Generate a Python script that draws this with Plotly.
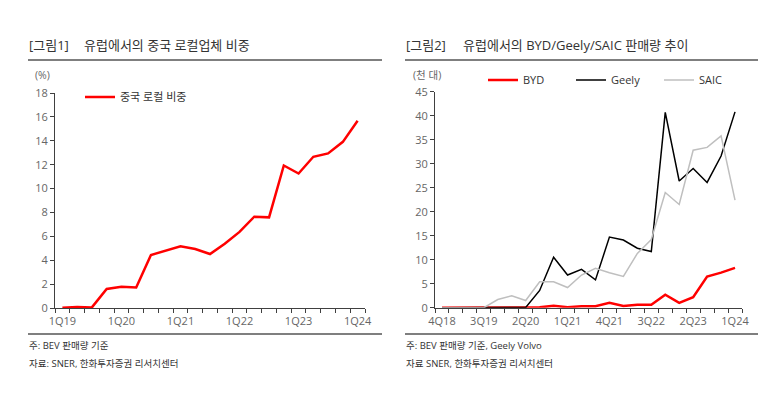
import plotly.graph_objects as go

W, H = 775, 412
FONT = "Open Sans, Noto Sans CJK KR"

# ---- Data: chart 1 (share of Chinese local makers in Europe, %)
quarters1 = ["1Q19", "2Q19", "3Q19", "4Q19", "1Q20", "2Q20", "3Q20", "4Q20",
             "1Q21", "2Q21", "3Q21", "4Q21", "1Q22", "2Q22", "3Q22", "4Q22",
             "1Q23", "2Q23", "3Q23", "4Q23", "1Q24"]
china_share = [0.03, 0.08, 0.05, 1.6, 1.77, 1.71, 4.44, 4.8, 5.16, 4.94, 4.52,
               5.38, 6.37, 7.64, 7.59, 11.93, 11.26, 12.66, 12.94, 13.91, 15.67]

# ---- Data: chart 2 (BYD/Geely/SAIC BEV sales in Europe, thousand units)
quarters2 = ["4Q18"] + quarters1
byd = [0.0, 0.0, 0.0, 0.05, 0.1, 0.05, 0.05, 0.07, 0.4, 0.1, 0.3, 0.3, 1.0,
       0.35, 0.6, 0.6, 2.7, 1.0, 2.2, 6.5, 7.3, 8.3]
geely = [0.0, 0.0, 0.0, 0.0, 0.0, 0.0, 0.05, 3.6, 10.5, 6.8, 8.0, 5.8, 14.7,
         14.1, 12.4, 11.7, 40.7, 26.4, 29.0, 26.1, 31.6, 40.8]
saic = [0.0, 0.0, 0.0, 0.0, 1.7, 2.5, 1.5, 5.4, 5.4, 4.2, 6.8, 8.2, 7.3,
        6.5, 11.3, 14.2, 24.0, 21.5, 32.8, 33.4, 35.8, 22.4]

fig = go.Figure()

x1 = list(range(len(quarters1)))
x2 = list(range(len(quarters2)))

fig.add_trace(go.Scatter(x=x1, y=china_share, mode="lines", name="중국 로컬 비중",
                         line=dict(color="#FF0000", width=2.5),
                         xaxis="x", yaxis="y", legend="legend"))
fig.add_trace(go.Scatter(x=x2, y=byd, mode="lines", name="BYD",
                         line=dict(color="#FF0000", width=2.5),
                         xaxis="x2", yaxis="y2", legend="legend2"))
fig.add_trace(go.Scatter(x=x2, y=geely, mode="lines", name="Geely",
                         line=dict(color="#000000", width=1.5),
                         xaxis="x2", yaxis="y2", legend="legend2"))
fig.add_trace(go.Scatter(x=x2, y=saic, mode="lines", name="SAIC",
                         line=dict(color="#BFBFBF", width=1.5),
                         xaxis="x2", yaxis="y2", legend="legend2"))

AX = "#404040"
TICKFONT = dict(family=FONT, size=11, color="#666666")

def xaxis(domain, n, step, labels):
    return dict(domain=domain, range=[-0.5, n - 0.5], tickmode="array",
                tickvals=list(range(0, n, step)), ticktext=labels[::step],
                ticks="", showline=True, linecolor=AX, linewidth=1,
                showgrid=False, zeroline=False, tickfont=TICKFONT, fixedrange=True,
                ticklabelstandoff=3,
                minor=dict(ticks="outside", ticklen=4, tickcolor=AX, tickwidth=1,
                           tickmode="linear", tick0=-0.5, dtick=1, showgrid=False))

def yaxis(domain, anchor, rng, dtick):
    return dict(domain=domain, anchor=anchor, range=rng, dtick=dtick,
                showline=True, linecolor=AX, linewidth=1, ticks="outside",
                ticklen=4, tickcolor=AX, showgrid=False, zeroline=False,
                tickfont=TICKFONT, fixedrange=True)

fig.update_layout(
    width=W, height=H, autosize=False,
    margin=dict(l=0, r=0, t=0, b=0, pad=0, autoexpand=False),
    paper_bgcolor="white", plot_bgcolor="white",
    font=dict(family=FONT, color="#333333"),
    xaxis=dict(xaxis([55 / W, 365 / W], len(quarters1), 4, quarters1), anchor="y"),
    yaxis=yaxis([(H - 308) / H, (H - 93) / H], "x", [0, 18], 2),
    xaxis2=dict(xaxis([435 / W, 742 / W], len(quarters2), 3, quarters2), anchor="y2"),
    yaxis2=yaxis([(H - 307.7) / H, (H - 91.7) / H], "x2", [0, 45], 5),
    legend=dict(x=80 / W, y=1 - 97 / H, xanchor="left", yanchor="middle",
                bgcolor="rgba(0,0,0,0)", font=dict(family=FONT, size=11, color="#333333"),
                itemwidth=30),
    legend2=dict(x=483 / W, y=1 - 80 / H, xanchor="left", yanchor="middle",
                 orientation="h", bgcolor="rgba(0,0,0,0)",
                 font=dict(family=FONT, size=11, color="#333333"),
                 itemwidth=30, entrywidth=43, entrywidthmode="pixels"),
    showlegend=True,
)

def ann(x, y, text, size=11, color="#333333"):
    fig.add_annotation(x=x / W, y=1 - y / H, xref="paper", yref="paper",
                       text=text, showarrow=False, xanchor="left", yanchor="middle",
                       font=dict(family=FONT, size=size, color=color))

# Titles
ann(27, 45, "[그림1]", 13)
ann(82, 45, "유럽에서의 중국 로컬업체 비중", 13)
ann(404, 45, "[그림2]", 13)
ann(461, 45, "유럽에서의 BYD/Geely/SAIC 판매량 추이", 13)

# Units
ann(33, 75, "(%)", 10.5, "#666666")
ann(411, 75, "(천 대)", 10.5, "#666666")

# Footnotes
ann(27, 345, "주: BEV 판매량 기준", 9.5)
ann(27, 363, "자료: SNER, 한화투자증권 리서치센터", 9.5)
ann(404, 345, "주: BEV 판매량 기준, Geely Volvo", 9.5)
ann(404, 363, "자료 SNER, 한화투자증권 리서치센터", 9.5)

# Separator lines
for x0, x1_ in [(28, 382), (405, 758)]:
    for yy in (60, 334):
        fig.add_shape(type="line", xref="paper", yref="paper",
                      x0=x0 / W, x1=x1_ / W, y0=1 - yy / H, y1=1 - yy / H,
                      line=dict(color="#000000", width=1.2))

fig.write_html("out.html")
